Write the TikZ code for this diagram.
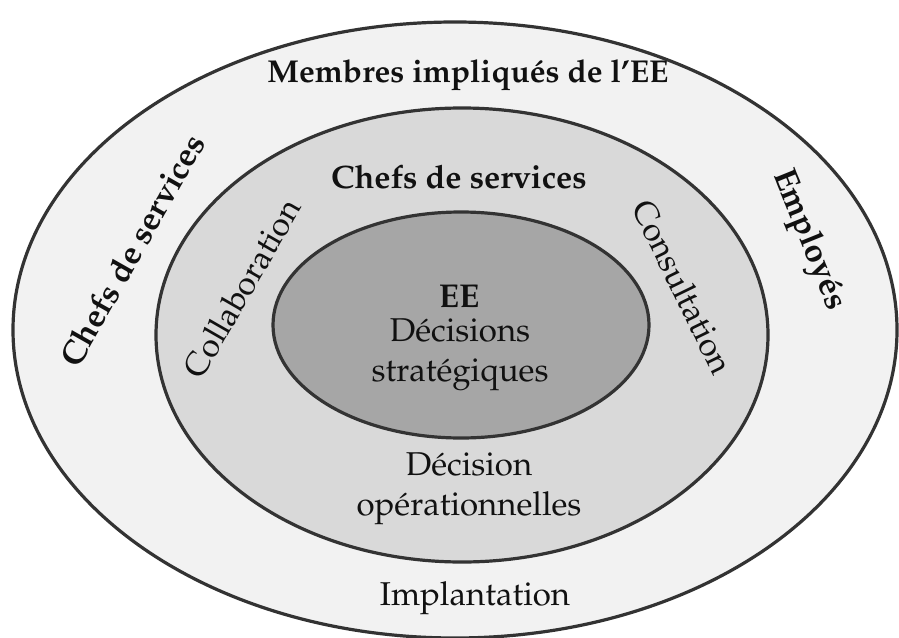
\documentclass[tikz,border=0pt]{standalone}
\usepackage[T1]{fontenc}
\usepackage{mathpazo}
\definecolor{outerfill}{HTML}{F2F2F2}
\definecolor{midfill}{HTML}{D9D9D9}
\definecolor{innerfill}{HTML}{A6A6A6}
\definecolor{ringline}{HTML}{333333}
\definecolor{txt}{HTML}{111111}
\tikzset{
  ring/.style={draw=ringline, line width=1.6pt},
  lbl/.style={inner sep=0pt, text=txt, font=\fontsize{16.5}{20}\selectfont, align=center},
  blbl/.style={lbl, font=\fontsize{16.5}{20}\selectfont\bfseries}
}
\begin{document}
\begin{tikzpicture}[x=0.5pt,y=-0.5pt]
\useasboundingbox (0,0) rectangle (899,637);
\clip (0,0) rectangle (899,637);
\fill[white] (0,0) rectangle (899,637);
\draw[ring, fill=outerfill] (455,330) ellipse [x radius=221pt, y radius=154pt];
\draw[ring, fill=midfill] (462,335) ellipse [x radius=153pt, y radius=113.5pt];
\draw[ring, fill=innerfill] (461,325) ellipse [x radius=94pt, y radius=56.5pt];
\node[blbl, font=\fontsize{15.8}{20}\selectfont\bfseries] (membres) at (468,75) {Membres impliqu\'es de l'EE};
\node[blbl, font=\fontsize{16.2}{20}\selectfont\bfseries] (chefsin) at (459,177) {Chefs de services};
\node[blbl] (ee) at (459,297) {EE};
\node[lbl] (strat) at (460,355) {D\'ecisions\\strat\'egiques};
\node[lbl] (oper) at (469,489) {D\'ecision\\op\'erationnelles};
\node[lbl] (impl) at (475,598) {Implantation};
\node[lbl, rotate=60] (collab) at (242,288) {Collaboration};
\node[lbl, rotate=-64] (consult) at (683,287) {Consultation};
\node[blbl, rotate=60.5] (chefsout) at (132,250) {Chefs de services};
\node[blbl, rotate=-68] (employes) at (808,240) {Employ\'es};
\end{tikzpicture}
\end{document}
